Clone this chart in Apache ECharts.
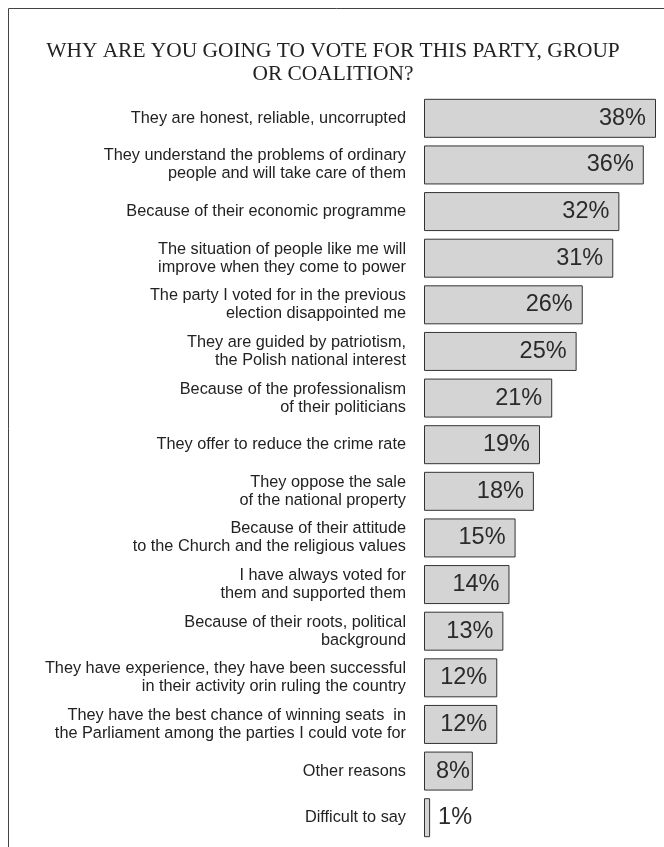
<!DOCTYPE html>
<html>
<head>
<meta charset="utf-8">
<script src="https://cdn.jsdelivr.net/npm/echarts@6/dist/echarts.min.js"></script>
<style>html,body{margin:0;padding:0;background:#fff;}#c{width:664px;height:847px;}</style>
</head>
<body>
<div id="c"></div>
<script>
var titleLines = ["WHY ARE YOU GOING TO VOTE FOR THIS PARTY, GROUP", "OR COALITION?"];
var categories = [
  "They are honest, reliable, uncorrupted",
  "They understand the problems of ordinary\npeople and will take care of them",
  "Because of their economic programme",
  "The situation of people like me will\nimprove when they come to power",
  "The party I voted for in the previous\nelection disappointed me",
  "They are guided by patriotism,\nthe Polish national interest",
  "Because of the professionalism\nof their politicians",
  "They offer to reduce the crime rate",
  "They oppose the sale\nof the national property",
  "Because of their attitude\nto the Church and the religious values",
  "I have always voted for\nthem and supported them",
  "Because of their roots, political\nbackground",
  "They have experience, they have been successful\nin their activity orin ruling the country",
  "They have the best chance of winning seats  in\nthe Parliament among the parties I could vote for",
  "Other reasons",
  "Difficult to say"
];
var values = [38, 36, 32, 31, 26, 25, 21, 19, 18, 15, 14, 13, 12, 12, 8, 1];

var chart = echarts.init(document.getElementById('c'), null, {renderer: 'canvas'});
var data = values.map(function (v) {
  var item = {value: v};
  if (v < 5) {
    item.label = {position: 'right', distance: 8};
  } else if (v < 10) {
    item.label = {position: 'insideRight', distance: 3};
  }
  return item;
});
chart.setOption({
  animation: false,
  backgroundColor: '#ffffff',
  graphic: [
    {type: 'rect', shape: {x: 8.5, y: 8.5, width: 700, height: 900}, style: {fill: 'none', stroke: '#444', lineWidth: 1}, z: 0}
  ],
  title: {
    text: titleLines.join('\n'),
    left: 328, top: 35, textAlign: 'center',
    textStyle: {fontFamily: '"Liberation Serif", "Times New Roman", serif', fontWeight: 'normal', fontSize: 21.4, lineHeight: 23, color: '#222'}
  },
  grid: {left: 424, top: 95, width: 232, height: 746, containLabel: false},
  xAxis: {type: 'value', min: 0, max: 38, show: false},
  yAxis: {
    type: 'category', data: categories, inverse: true,
    axisLine: {show: false}, axisTick: {show: false}, splitLine: {show: false},
    axisLabel: {margin: 18, fontFamily: '"Liberation Sans", Arial, sans-serif', fontSize: 16.3, lineHeight: 18, color: '#222', align: 'right'}
  },
  series: [{
    type: 'bar', data: data, barWidth: 39,
    itemStyle: {color: '#d4d4d4', borderColor: '#333', borderWidth: 1},
    label: {show: true, position: 'insideRight', distance: 10, formatter: '{c}%',
      fontFamily: '"Liberation Sans", Arial, sans-serif', fontSize: 23.5, color: '#2a2a2a'}
  }]
});
</script>
</body>
</html>
